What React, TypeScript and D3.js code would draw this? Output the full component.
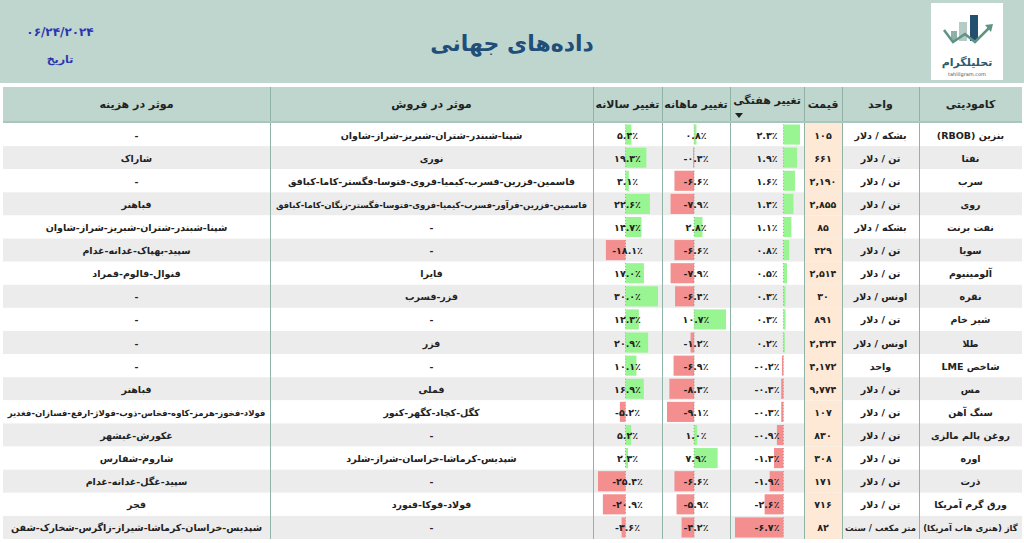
import { useEffect, useRef } from "react";
import * as d3 from "d3";

// table data (rows sorted by weekly change, as in the sheet)
const commodities = [
  "بنزین (RBOB)", "نفتا", "سرب", "روی", "نفت برنت", "سویا", "آلومینیوم", "نقره", "شیر خام",
  "طلا", "شاخص LME", "مس", "سنگ آهن", "روغن پالم مالزی", "اوره", "ذرت", "ورق گرم آمریکا",
  "گاز (هنری هاب آمریکا)",
];
const units = [
  "بشکه / دلار", "تن / دلار", "تن / دلار", "تن / دلار", "بشکه / دلار", "تن / دلار", "تن / دلار",
  "اونس / دلار", "تن / دلار", "اونس / دلار", "واحد", "تن / دلار", "تن / دلار", "تن / دلار",
  "تن / دلار", "تن / دلار", "تن / دلار", "متر مکعب / سنت",
];
const prices = [105, 661, 2190, 2855, 85, 429, 2514, 30, 891, 2324, 4172, 9774, 107, 830, 308, 171, 716, 82];
const weekly = [2.3, 1.9, 1.6, 1.4, 1.1, 0.8, 0.5, 0.3, 0.3, 0.2, -0.2, -0.3, -0.3, -0.9, -1.3, -1.9, -2.6, -6.7];
const monthly = [0.8, -0.3, -6.6, -7.9, 2.8, -6.6, -7.9, -6.4, 10.7, -1.2, -6.9, -8.3, -9.1, 1.0, 7.9, -6.6, -5.9, -4.2];
const annual = [5.4, 19.3, 3.1, 22.6, 14.7, -18.1, 17.0, 30.0, 12.3, 20.9, 10.1, 16.9, -5.2, 5.2, 2.3, -25.4, -20.9, -3.6];
const salesImpact = [
  "شپنا-شبندر-شتران-شبریز-شراز-شاوان",
  "نوری",
  "فاسمین-فزرین-فسرب-کیمیا-فروی-فتوسا-فگستر-کاما-کبافق",
  "فاسمین-فزرین-فرآور-فسرب-کیمیا-فروی-فتوسا-فگستر-زنگان-کاما-کبافق",
  "-", "-", "فایرا", "فزر-فسرب", "-", "فزر", "-", "فملی",
  "کگل-کچاد-کگهر-کنور",
  "-",
  "شپدیس-کرماشا-خراسان-شراز-شلرد",
  "-",
  "فولاد-فوکا-فنورد",
  "-",
];
const costImpact = [
  "-", "شاراک", "-", "فباهنر",
  "شپنا-شبندر-شتران-شبریز-شراز-شاوان",
  "سپید-بهپاک-غدانه-غدام",
  "فنوال-فالوم-فمراد",
  "-", "-", "-", "-", "فباهنر",
  "فولاد-فخوز-هرمز-کاوه-فخاس-ذوب-فولاژ-ارفع-فسازان-فغدیر",
  "غکورش-غبشهر",
  "شاروم-شفارس",
  "سپید-غگل-غدانه-غدام",
  "فجر",
  "شپدیس-خراسان-کرماشا-شیراز-زاگرس-شخارک-شفن",
];
const headers = ["موثر در هزینه", "موثر در فروش", "تغییر سالانه", "تغییر ماهانه", "تغییر هفتگی", "قیمت", "واحد", "کامودیتی"];
const title = "داده‌های جهانی";
const reportDate = "06/24/2024";
const dateLabel = "تاریخ";

const FONT = "'DejaVu Sans', sans-serif";
const fa = (s: string) => s.replace(/\d/g, (d) => "۰۱۲۳۴۵۶۷۸۹"[+d]);
const pct = (v: number) => fa(v.toFixed(1)) + "٪";

const App = () => {
  const svgRef = useRef<SVGSVGElement>(null);

  useEffect(() => {
    const w = 1024;
    const h = 543;
    const svg = d3.select(svgRef.current).attr("width", w).attr("height", h);
    svg.selectAll("*").remove();

    // column edges, right-to-left sheet drawn left-to-right
    const edges = [3, 270, 593, 662, 730, 804, 842, 919, 1022];
    const cx = (c: number) => (edges[c] + edges[c + 1]) / 2;
    const headTop = 87;
    const headBottom = 122;

    const y = d3.scaleBand<number>().domain(d3.range(commodities.length)).range([123, 539]);
    const rh = y.bandwidth();

    // banner
    svg.append("rect").attr("width", w).attr("height", 83).attr("fill", "#bed6ce");
    svg.append("text").text(title)
      .attr("x", 512).attr("y", 51).attr("text-anchor", "middle").attr("direction", "rtl")
      .style("font", `bold 22px ${FONT}`).attr("fill", "#1f4e79");
    svg.append("text").text(fa(reportDate))
      .attr("x", 60).attr("y", 36).attr("text-anchor", "middle")
      .style("font", `bold 12px ${FONT}`).attr("fill", "#2b35b0");
    svg.append("text").text(dateLabel)
      .attr("x", 60).attr("y", 63).attr("text-anchor", "middle").attr("direction", "rtl")
      .style("font", `bold 11px ${FONT}`).attr("fill", "#2b35b0");

    // logo
    const logo = svg.append("g");
    logo.append("rect").attr("x", 931).attr("y", 3).attr("width", 72).attr("height", 77).attr("fill", "#fff");
    logo.append("rect").attr("x", 951).attr("y", 31).attr("width", 6).attr("height", 10).attr("fill", "#8fb0a6");
    logo.append("rect").attr("x", 959).attr("y", 22).attr("width", 8).attr("height", 19).attr("fill", "#b5cbc4");
    logo.append("rect").attr("x", 970).attr("y", 15).attr("width", 8).attr("height", 26).attr("fill", "#24506f");
    logo.append("path").attr("d", "M944,30 L953,42 L965,34 L975,42 L990,27")
      .attr("fill", "none").attr("stroke", "#5f9384").attr("stroke-width", 2.5);
    logo.append("path").attr("d", "M985,25 L993,24 L991,32 Z").attr("fill", "#5f9384");
    logo.append("text").text("تحلیلگرام").attr("x", 967).attr("y", 66).attr("text-anchor", "middle")
      .attr("direction", "rtl").style("font", `bold 11px ${FONT}`).attr("fill", "#2d5a6e");
    logo.append("text").text("tahlilgram.com").attr("x", 967).attr("y", 76).attr("text-anchor", "middle")
      .style("font", `5px ${FONT}`).attr("fill", "#555");

    // header row
    svg.append("rect").attr("x", edges[0]).attr("y", headTop).attr("width", edges[8] - edges[0])
      .attr("height", headBottom - headTop).attr("fill", "#bed6ce");
    headers.forEach((label, c) => {
      svg.append("text").text(label)
        .attr("x", cx(c)).attr("y", c === 4 ? 104 : 108).attr("text-anchor", "middle").attr("direction", "rtl")
        .style("font", `bold 11px ${FONT}`).attr("fill", "#222");
    });
    svg.append("path").attr("d", "M735,113 L743,113 L739,118 Z").attr("fill", "#222");

    // row backgrounds
    const rows = svg.append("g");
    commodities.forEach((_, i) => {
      rows.append("rect").attr("x", edges[0]).attr("y", y(i)!).attr("width", edges[8] - edges[0])
        .attr("height", rh).attr("fill", i % 2 ? "#ececec" : "#ffffff");
      rows.append("rect").attr("x", edges[5]).attr("y", y(i)!).attr("width", edges[6] - edges[5])
        .attr("height", rh).attr("fill", "#fde9d5");
    });

    // data bars for the change columns
    const barCols: [number, number[]][] = [[2, annual], [3, monthly], [4, weekly]];
    barCols.forEach(([c, vals]) => {
      const x = d3.scaleLinear()
        .domain([Math.min(0, d3.min(vals)!), Math.max(0, d3.max(vals)!)])
        .range([edges[c] + 5, edges[c + 1] - 4]);
      const g = svg.append("g");
      g.selectAll("rect").data(vals).join("rect")
        .attr("x", (d) => Math.min(x(0), x(d)))
        .attr("y", (d, i) => y(i)! + 1.5)
        .attr("width", (d) => Math.abs(x(d) - x(0)))
        .attr("height", rh - 3)
        .attr("fill", (d) => (d < 0 ? "#f38f8f" : "#99f592"));
      g.selectAll("line").data(vals).join("line")
        .attr("x1", x(0)).attr("x2", x(0))
        .attr("y1", (d, i) => y(i)! + 1.5).attr("y2", (d, i) => y(i)! + rh - 1.5)
        .attr("stroke", "#777").attr("stroke-width", 0.6).attr("stroke-dasharray", "1,2");
      g.selectAll("text").data(vals).join("text")
        .text((d) => pct(d))
        .attr("x", cx(c)).attr("y", (d, i) => y(i)! + rh / 2 + 4)
        .attr("text-anchor", "middle").style("font", `bold 9.5px ${FONT}`).attr("fill", "#222");
    });

    // text columns, shrinking the font of texts too wide for their cell
    const textCols: [number, string[]][] = [
      [0, costImpact],
      [1, salesImpact],
      [5, prices.map((p) => fa(d3.format(",")(p)))],
      [6, units],
      [7, commodities],
    ];
    textCols.forEach(([c, vals]) => {
      const maxW = edges[c + 1] - edges[c] - 6;
      svg.append("g").selectAll("text").data(vals).join("text")
        .text((d) => d)
        .attr("x", cx(c)).attr("y", (d, i) => y(i)! + rh / 2 + 4)
        .attr("text-anchor", "middle").attr("direction", "rtl")
        .style("font", `bold 9.5px ${FONT}`).attr("fill", "#222")
        .each(function () {
          const t = this as SVGTextElement;
          let size = 9.5;
          while (t.getBBox().width > maxW && size > 6) {
            size -= 0.25;
            t.style.font = `bold ${size}px ${FONT}`;
          }
        });
    });

    // grid lines
    svg.append("g").selectAll("line").data(edges.slice(1, 8)).join("line")
      .attr("x1", (d) => d + 0.5).attr("x2", (d) => d + 0.5)
      .attr("y1", headTop).attr("y2", 539)
      .attr("stroke", "#8fb4a7").attr("stroke-width", 1);
    svg.append("line").attr("x1", edges[0]).attr("x2", edges[8]).attr("y1", headBottom).attr("y2", headBottom)
      .attr("stroke", "#a8c6bc").attr("stroke-width", 2);
  }, []);

  return <svg ref={svgRef} style={{ position: "absolute", left: 0, top: 0, display: "block" }}></svg>;
};

export default App;
